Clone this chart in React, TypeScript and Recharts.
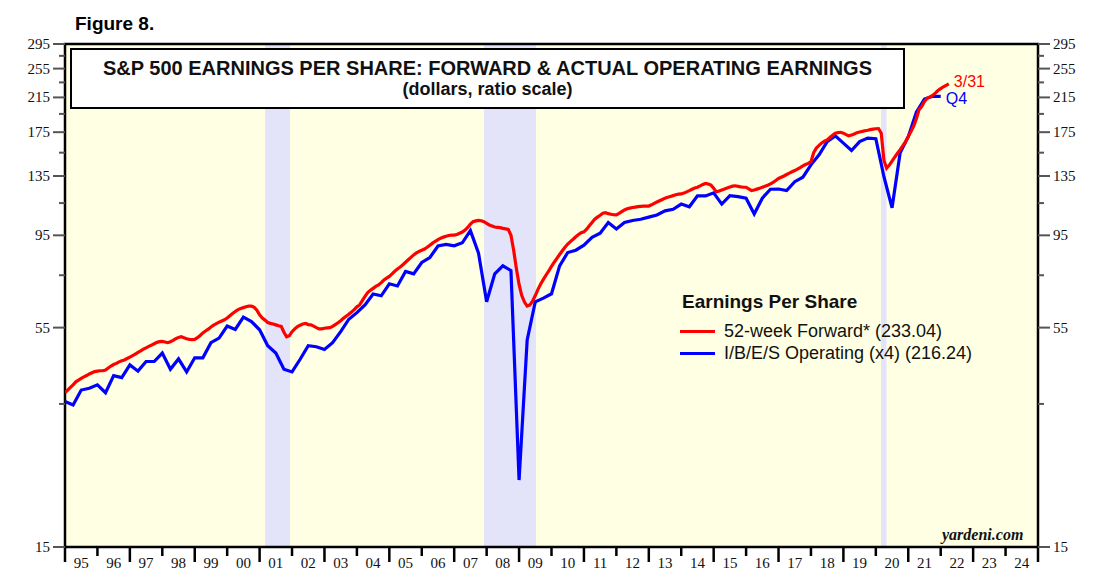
import React from 'react';
import {
  ComposedChart,
  Line,
  XAxis,
  YAxis,
  ReferenceArea,
  ReferenceDot,
} from 'recharts';

// x axis: one label per year, 1995..2024
const FIRST_YEAR = 1995;
const LAST_YEAR = 2025;
const yearLabels = [
  '95', '96', '97', '98', '99', '00', '01', '02', '03', '04',
  '05', '06', '07', '08', '09', '10', '11', '12', '13', '14',
  '15', '16', '17', '18', '19', '20', '21', '22', '23', '24',
];

// ratio scale ticks
const majorTicks = [15, 55, 95, 135, 175, 215, 255, 295];
const minorTicks = [35, 75, 115, 155, 195, 235, 275];

// recessions (fractional years)
const recessionStart = [2001.17, 2007.92, 2020.16];
const recessionEnd = [2001.94, 2009.52, 2020.33];

// 52-week forward earnings, monthly from Jan 1995
const forwardStart = 1995;
const forwardEps = [
  37.4, 38.0, 38.6, 39.2, 39.9, 40.3, 40.7, 41.1, 41.4, 41.8, 42.1, 42.4, // 95
  42.5, 42.6, 42.6, 42.8, 43.3, 43.8, 44.2, 44.5, 44.9, 45.2, 45.4, 45.8, // 96
  46.2, 46.6, 47.0, 47.5, 47.9, 48.4, 48.8, 49.2, 49.6, 50.0, 50.4, 50.6, // 97
  50.7, 50.5, 50.3, 50.6, 51.0, 51.5, 51.9, 52.1, 51.8, 51.5, 51.3, 51.2, // 98
  51.3, 51.8, 52.5, 53.3, 53.9, 54.5, 55.2, 55.8, 56.3, 56.8, 57.2, 57.6, // 99
  58.2, 59.0, 59.8, 60.5, 61.2, 61.6, 61.9, 62.2, 62.5, 62.5, 62.0, 61.0, // 00
  59.3, 58.2, 57.5, 56.7, 56.4, 56.2, 55.9, 55.6, 55.4, 53.5, 52.1, 52.4, // 01
  53.7, 54.6, 55.3, 55.8, 56.2, 56.4, 56.0, 55.9, 55.5, 55.0, 54.6, 54.6, // 02
  54.8, 54.9, 55.0, 55.4, 56.0, 56.6, 57.3, 58.1, 58.8, 59.5, 60.3, 61.2, // 03
  62.2, 62.9, 64.5, 66.2, 67.7, 68.6, 69.4, 70.2, 70.8, 71.8, 72.9, 73.7, // 04
  74.5, 75.6, 76.8, 77.8, 78.7, 79.8, 81.0, 82.2, 83.4, 84.6, 85.6, 86.3, // 05
  87.0, 87.6, 88.5, 89.6, 90.7, 91.7, 92.6, 93.4, 94.0, 94.5, 94.9, 95.1, // 06
  95.1, 95.5, 96.2, 96.9, 98.0, 99.5, 101.5, 103.0, 103.5, 103.8, 103.6, 103.0, // 07
  102.0, 101.0, 100.4, 99.8, 99.6, 99.4, 99.0, 98.7, 98.4, 95.0, 87.0, 78.0, // 08
  71.0, 66.5, 64.0, 62.5, 62.9, 64.3, 66.5, 69.0, 71.2, 73.2, 75.1, 77.0, // 09
  79.0, 81.0, 82.9, 84.8, 86.7, 88.5, 90.2, 91.5, 92.8, 94.2, 95.5, 96.5, // 10
  97.0, 98.5, 100.5, 102.5, 104.5, 105.8, 107.0, 108.3, 108.6, 108.0, 107.6, 107.3, // 11
  107.2, 108.2, 109.3, 110.4, 111.2, 111.6, 112.0, 112.3, 112.6, 112.8, 112.9, 113.0, // 12
  113.0, 113.8, 114.8, 115.7, 116.6, 117.5, 118.4, 119.0, 119.6, 120.2, 120.8, 121.2, // 13
  121.4, 122.0, 122.9, 123.8, 124.8, 125.7, 126.3, 127.3, 128.4, 129.2, 128.8, 127.9, // 14
  125.5, 122.9, 123.5, 124.3, 125.0, 125.8, 126.5, 127.1, 127.4, 127.0, 126.6, 126.3, // 15
  126.3, 125.0, 123.8, 124.2, 124.9, 125.6, 126.3, 127.1, 127.8, 128.8, 130.0, 131.5, // 16
  133.0, 134.0, 135.0, 136.2, 137.3, 138.4, 139.4, 140.6, 141.9, 143.3, 144.5, 145.5, // 17
  147.0, 155.0, 159.3, 161.8, 164.2, 166.0, 167.2, 169.5, 171.8, 174.0, 174.6, 174.9, // 18
  174.0, 172.5, 171.2, 172.0, 173.2, 174.5, 175.2, 175.8, 176.5, 177.0, 177.6, 178.2, // 19
  178.6, 178.8, 174.0, 148.0, 141.4, 144.0, 147.5, 151.0, 154.5, 157.8, 161.5, 165.5, // 20
  170.5, 175.7, 181.5, 189.6, 200.0, 204.0, 210.0, 214.0, 215.5, 217.5, 220.5, 224.0, // 21
  226.5, 229.0, 231.0, 233.04, // 22
];

// I/B/E/S operating earnings (x4), quarterly from 1995
const operatingStart = 1995;
const operatingEps = [
  35.5, 34.8, 38.0, 38.4, // 95
  39.2, 37.4, 41.4, 40.9, // 96
  44.1, 42.5, 45.0, 45.0, // 97
  47.3, 43.0, 45.7, 42.3, // 98
  46.0, 46.0, 50.3, 51.7, // 99
  55.5, 54.4, 58.5, 57.0, // 00
  54.3, 49.4, 47.3, 43.0, // 01
  42.3, 45.6, 49.4, 49.1, // 02
  48.3, 50.3, 53.7, 57.8, // 03
  60.1, 62.9, 67.1, 66.4, // 04
  71.3, 70.4, 76.7, 75.6, // 05
  80.9, 83.3, 89.2, 90.0, // 06
  89.3, 90.9, 97.7, 85.5, // 07
  64.1, 75.6, 79.3, 77.1, // 08
  22.3, 51.1, 64.1, 65.5, // 09
  67.2, 79.3, 85.8, 87.0, // 10
  89.6, 93.9, 96.2, 102.5, // 11
  98.6, 102.5, 103.7, 104.5, // 12
  105.8, 107.2, 109.8, 110.8, // 13
  114.3, 112.5, 120.0, 120.0, // 14
  122.2, 114.3, 120.2, 119.5, // 15
  118.4, 107.8, 118.4, 124.8, // 16
  125.0, 123.8, 130.5, 134.0, // 17
  144.2, 153.1, 165.5, 171.2, // 18
  164.0, 157.0, 165.5, 169.0, // 19
  168.3, 134.4, 111.8, 155.0, // 20
  170.4, 197.0, 213.0, 216.5, // 21
  216.24, // 22
];

const legendTitle = 'Earnings Per Share';
const legendNames = ['52-week Forward* (233.04)', 'I/B/E/S Operating (x4) (216.24)'];
const seriesColors = ['#ff0000', '#0000ff'];

const forwardData = forwardEps.map((v, i) => ({ t: forwardStart + i / 12, v }));
const operatingData = operatingEps.map((v, i) => ({ t: operatingStart + i / 4, v }));

const xTicks: number[] = [];
for (let y = FIRST_YEAR; y <= LAST_YEAR; y++) {
  xTicks.push(y);
  if (y < LAST_YEAR) xTicks.push(y + 0.5);
}
const yTicks = [...majorTicks, ...minorTicks].sort((a, b) => a - b);

const SERIF = '"Liberation Serif", "Times New Roman", serif';
const SANS = '"Liberation Sans", Arial, sans-serif';

const XTick = (props: any) => {
  const { x, y, payload } = props;
  const v = payload.value;
  if (Number.isInteger(v)) {
    const long = (v - FIRST_YEAR) % 2 === 0;
    return <line x1={x} x2={x} y1={y} y2={y + (long ? 15 : 9)} stroke="#000" strokeWidth={2.5} />;
  }
  return (
    <text x={x} y={y + 21} textAnchor="middle" fontFamily={SERIF} fontSize={15} fill="#111">
      {yearLabels[Math.floor(v) - FIRST_YEAR]}
    </text>
  );
};

const YTick = (props: any) => {
  const { x, y, payload, side } = props;
  const v = payload.value;
  const major = majorTicks.includes(v);
  const dir = side === 'left' ? -1 : 1;
  return (
    <g>
      <line x1={x} x2={x + dir * (major ? 12 : 6)} y1={y} y2={y} stroke="#555" strokeWidth={2} />
      {major && (
        <text
          x={x + dir * 15}
          y={y + 5}
          textAnchor={side === 'left' ? 'end' : 'start'}
          fontFamily={SERIF}
          fontSize={15}
          fill="#111"
        >
          {v}
        </text>
      )}
    </g>
  );
};

export default function App() {
  return (
    <div
      style={{
        position: 'absolute',
        left: 0,
        top: 0,
        width: 1095,
        height: 587,
        background: '#fff',
        fontFamily: SANS,
      }}
    >
      <div style={{ position: 'absolute', left: 75, top: 13, fontSize: 19, fontWeight: 'bold' }}>Figure 8.</div>

      <ComposedChart width={1095} height={587} margin={{ top: 44, right: 5, bottom: 5, left: 5 }}>
        <XAxis
          dataKey="t"
          type="number"
          domain={[FIRST_YEAR, LAST_YEAR]}
          ticks={xTicks}
          interval={0}
          tickSize={0}
          tickMargin={0}
          tickLine={false}
          axisLine={false}
          tick={<XTick />}
          height={35}
          allowDataOverflow
        />
        <YAxis
          yAxisId="left"
          scale="log"
          domain={[15, 295]}
          ticks={yTicks}
          interval={0}
          tickSize={0}
          tickMargin={0}
          tickLine={false}
          axisLine={false}
          tick={(p: any) => <YTick {...p} side="left" />}
          width={60}
          allowDataOverflow
        />
        <YAxis
          yAxisId="right"
          orientation="right"
          scale="log"
          domain={[15, 295]}
          ticks={yTicks}
          interval={0}
          tickSize={0}
          tickMargin={0}
          tickLine={false}
          axisLine={false}
          tick={(p: any) => <YTick {...p} side="right" />}
          width={52}
          allowDataOverflow
        />

        <ReferenceArea
          yAxisId="left"
          x1={FIRST_YEAR}
          x2={LAST_YEAR}
          y1={15}
          y2={295}
          fill="#ffffe3"
          fillOpacity={1}
          stroke="none"
        />
        {recessionStart.map((s, i) => (
          <ReferenceArea
            key={s}
            yAxisId="left"
            x1={s}
            x2={recessionEnd[i]}
            y1={15}
            y2={295}
            fill="#e3e3fa"
            fillOpacity={1}
            stroke="none"
          />
        ))}
        <ReferenceArea
          yAxisId="left"
          x1={FIRST_YEAR}
          x2={LAST_YEAR}
          y1={15}
          y2={295}
          fill="none"
          stroke="#000"
          strokeWidth={2.5}
        />

        <Line
          yAxisId="left"
          data={operatingData}
          dataKey="v"
          type="linear"
          stroke={seriesColors[1]}
          strokeWidth={3.2}
          dot={false}
          isAnimationActive={false}
        />
        <Line
          yAxisId="left"
          data={forwardData}
          dataKey="v"
          type="linear"
          stroke={seriesColors[0]}
          strokeWidth={3.2}
          dot={false}
          isAnimationActive={false}
        />
        <ReferenceDot
          yAxisId="left"
          x={forwardData[forwardData.length - 1].t}
          y={forwardData[forwardData.length - 1].v}
          r={0}
          stroke="none"
          label={{ value: '3/31', position: 'right', fill: seriesColors[0], fontSize: 16, fontFamily: SANS, dy: -2 }}
        />
        <ReferenceDot
          yAxisId="left"
          x={operatingData[operatingData.length - 1].t}
          y={operatingData[operatingData.length - 1].v}
          r={0}
          stroke="none"
          label={{ value: 'Q4', position: 'right', fill: seriesColors[1], fontSize: 16, fontFamily: SANS, dy: 2 }}
        />
      </ComposedChart>

      {/* title box */}
      <div
        style={{
          position: 'absolute',
          left: 70,
          top: 48,
          width: 831,
          height: 57,
          border: '2px solid #000',
          background: '#fff',
          textAlign: 'center',
          fontWeight: 'bold',
          color: '#111',
        }}
      >
        <div style={{ fontSize: 20, marginTop: 8, lineHeight: '20px' }}>
          S&amp;P 500 EARNINGS PER SHARE: FORWARD &amp; ACTUAL OPERATING EARNINGS
        </div>
        <div style={{ fontSize: 18, lineHeight: '18px', marginTop: 2 }}>(dollars, ratio scale)</div>
      </div>

      {/* legend */}
      <div style={{ position: 'absolute', left: 682, top: 291, fontSize: 19, fontWeight: 'bold', color: '#111' }}>
        {legendTitle}
      </div>
      {legendNames.map((name, i) => (
        <div
          key={name}
          style={{
            position: 'absolute',
            left: 680,
            top: 321 + i * 22,
            height: 20,
            display: 'flex',
            alignItems: 'center',
            fontSize: 18,
            color: '#111',
            whiteSpace: 'nowrap',
          }}
        >
          <span style={{ display: 'inline-block', width: 35, height: 3, background: seriesColors[i], marginRight: 9 }} />
          {name}
        </div>
      ))}

      <div
        style={{
          position: 'absolute',
          left: 942,
          top: 526,
          fontFamily: SERIF,
          fontStyle: 'italic',
          fontWeight: 'bold',
          fontSize: 16,
          color: '#111',
        }}
      >
        yardeni.com
      </div>
    </div>
  );
}
